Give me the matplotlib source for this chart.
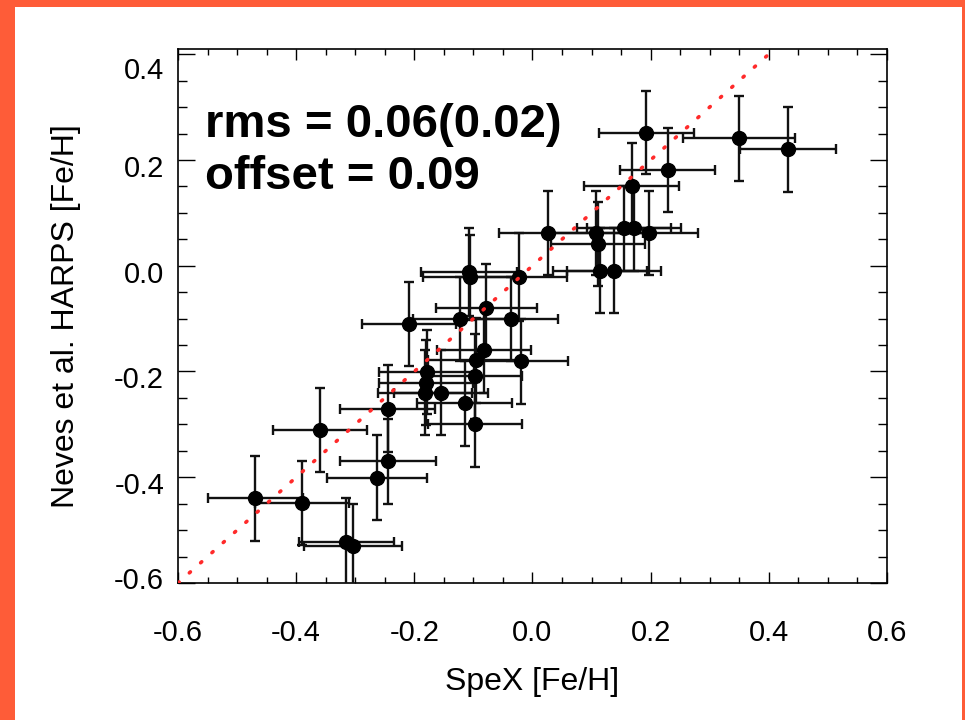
import matplotlib
matplotlib.use("Agg")
import matplotlib.pyplot as plt
import matplotlib.transforms as mtransforms
from matplotlib.patches import Rectangle
from matplotlib.ticker import MultipleLocator
import numpy as np

# SpeX vs. Neves et al. HARPS metallicities
spex_feh = [-0.469, -0.390, -0.315, -0.304, -0.360, -0.245, -0.245, -0.263,
            -0.209, -0.107, -0.105, -0.022, -0.078, -0.123, -0.036, -0.082,
            -0.096, -0.019, -0.179, -0.098, -0.180, -0.182, -0.155, -0.115,
            -0.097, 0.027, 0.107, 0.155, 0.172, 0.198, 0.111, 0.114,
            0.138, 0.168, 0.229, 0.193, 0.350, 0.433]
harps_feh = [-0.440, -0.449, -0.523, -0.530, -0.311, -0.270, -0.370, -0.401,
             -0.110, -0.012, -0.022, -0.021, -0.080, -0.101, -0.101, -0.160,
             -0.179, -0.181, -0.201, -0.209, -0.221, -0.240, -0.240, -0.260,
             -0.300, 0.062, 0.062, 0.071, 0.071, 0.062, 0.041, -0.009,
             -0.009, 0.151, 0.181, 0.252, 0.241, 0.220]
spex_err = [0.08, 0.08, 0.08, 0.083, 0.08, 0.08, 0.081, 0.085,
            0.08, 0.081, 0.08, 0.08, 0.086, 0.08, 0.08, 0.08,
            0.08, 0.08, 0.08, 0.08, 0.08, 0.08, 0.08, 0.08,
            0.08, 0.083, 0.08, 0.08, 0.08, 0.083, 0.08, 0.08,
            0.08, 0.08, 0.08, 0.08, 0.095, 0.081]
harps_err = [0.081, 0.08, 0.083, 0.08, 0.08, 0.083, 0.08, 0.08,
             0.08, 0.083, 0.08, 0.083, 0.083, 0.08, 0.08, 0.08,
             0.08, 0.08, 0.08, 0.08, 0.08, 0.08, 0.08, 0.08,
             0.08, 0.079, 0.08, 0.08, 0.08, 0.079, 0.08, 0.08,
             0.08, 0.081, 0.08, 0.078, 0.08, 0.08]

one_to_one = [-0.6, 0.6]
tick_vals = [-0.6, -0.4, -0.2, 0.0, 0.2, 0.4, 0.6]
stats_text = "rms = 0.06(0.02)\noffset = 0.09"

plt.rcParams['font.family'] = ['Liberation Sans', 'DejaVu Sans']

fig = plt.figure(figsize=(9.65, 7.2), dpi=100, facecolor='#fe5c38')
# white panel inside the orange frame
fig.patches.append(Rectangle((15 / 965, 0), 947 / 965, 1 - 7 / 720,
                             transform=fig.transFigure, facecolor='white',
                             edgecolor='none', zorder=-10))

ax = fig.add_axes([0.1845, 0.1903, 0.7345, 0.7417])
ax.set_facecolor('white')

ax.errorbar(spex_feh, harps_feh, xerr=spex_err, yerr=harps_err,
            fmt='o', color='black', markersize=10, ecolor='#111111',
            elinewidth=1.7, capsize=3.8, capthick=1.7, zorder=3)
ax.plot(one_to_one, one_to_one, color='#ff2a2a', linewidth=2.6,
        linestyle=(0, (0.4, 3.8)), dash_capstyle='round', zorder=5)

ax.set_xlim(-0.6, 0.6)
ax.set_ylim(-0.6, 0.41)
ax.set_xticks(tick_vals)
ax.set_yticks(tick_vals[:-1])
ax.set_xticklabels([f"{v:.1f}" for v in tick_vals])
ax.set_yticklabels([f"{v:.1f}" for v in tick_vals[:-1]])
ax.xaxis.set_minor_locator(MultipleLocator(0.05))
ax.yaxis.set_minor_locator(MultipleLocator(0.05))
ax.tick_params(which='both', direction='in', top=True, right=True,
               labelsize=21, width=1.0)
ax.tick_params(axis='x', which='major', length=8, pad=26)
ax.tick_params(axis='x', which='minor', length=4)
ax.tick_params(axis='y', which='major', length=12, pad=10)
ax.tick_params(axis='y', which='minor', length=6.5)
for s in ax.spines.values():
    s.set_linewidth(1.2)

# y tick labels sit a little below their ticks; the end ones are pushed inside
ylabels = ax.get_yticklabels()
for i, lab in enumerate(ylabels):
    if i == 0:
        dy = 5
    elif i == len(ylabels) - 1:
        dy = -14
    else:
        dy = -6
    lab.set_transform(lab.get_transform() +
                      mtransforms.ScaledTranslation(0, dy / 100, fig.dpi_scale_trans))

ax.set_xlabel("SpeX [Fe/H]", fontsize=23, labelpad=14)
ax.set_ylabel("Neves et al. HARPS [Fe/H]", fontsize=23, labelpad=24)

ax.text(0.038, 0.899, stats_text, transform=ax.transAxes, fontsize=34,
        fontweight='bold', va='top', ha='left', linespacing=1.25)

fig.savefig("out.png", dpi=100, facecolor=fig.get_facecolor())
